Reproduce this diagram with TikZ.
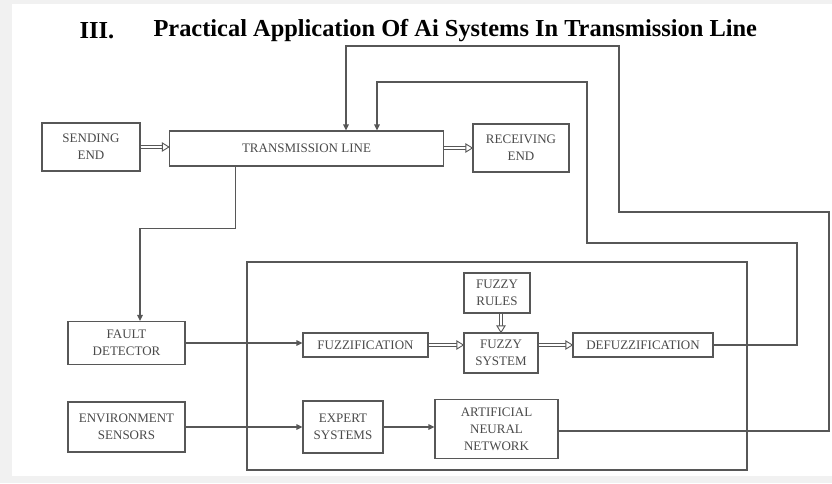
\documentclass[tikz,border=0pt]{standalone}
\usepackage{fontspec}
\setmainfont{Liberation Serif}
\usetikzlibrary{arrows.meta,calc}

\definecolor{linec}{HTML}{575757}
\definecolor{textc}{HTML}{4A4A4A}
\definecolor{pagebg}{HTML}{F1F1F1}

\tikzset{
  box/.style={draw=linec, line width=1.2pt, fill=white, inner sep=0pt,
    align=center, text=textc, font=\fontsize{13}{17}\selectfont},
  conn/.style={draw=linec, line width=1.2pt},
  arr/.style={conn, -{Triangle[length=6pt,width=5.5pt]}},
  dbl/.style={draw=linec, line width=0.9pt, double=white, double distance=2.6pt,
    shorten >=6pt},
  ohead/.pic={\draw[draw=linec, line width=0.9pt, fill=white]
    (0,0) -- (-6.5,4) -- (-6.5,-4) -- cycle;},
}

\begin{document}
\begin{tikzpicture}[x=1pt, y=-1pt]
  % page and margins
  \fill[pagebg] (0,0) rectangle (832,483);
  \fill[white] (12,4) rectangle (832,476);
  \useasboundingbox (0,0) rectangle (832,483);

  % heading
  \node[font=\bfseries\fontsize{24.4}{26}\selectfont, anchor=west] (num) at (76,31) {III.};
  \node[font=\bfseries\fontsize{24.4}{26}\selectfont, anchor=west] (title) at (150,31)
    {Practical Application Of Ai Systems In Transmission Line};

  % frame around the intelligent subsystem
  \node[draw=linec, line width=1.2pt, minimum width=500pt, minimum height=208pt,
    inner sep=0pt] (frame) at (497,366) {};

  % blocks
  \node[box, minimum width=98pt,  minimum height=48pt] (send)   at (91,147)    {SENDING\\END};
  \node[box, minimum width=274pt, minimum height=35pt] (tl)     at (306.5,148.5) {TRANSMISSION LINE};
  \node[box, minimum width=96pt,  minimum height=48pt] (recv)   at (521,148)   {RECEIVING\\END};
  \node[box, minimum width=117pt, minimum height=43pt] (fault)  at (126.5,343) {FAULT\\DETECTOR};
  \node[box, minimum width=117pt, minimum height=50pt] (env)    at (126.5,427) {ENVIRONMENT\\SENSORS};
  \node[box, minimum width=125pt, minimum height=24pt] (fuzzif) at (365.5,345) {FUZZIFICATION};
  \node[box, minimum width=80pt,  minimum height=52pt] (expert) at (343,427)   {EXPERT\\SYSTEMS};
  \node[box, minimum width=123pt, minimum height=59pt] (ann)    at (496.5,429) {ARTIFICIAL\\NEURAL\\NETWORK};
  \node[box, minimum width=66pt,  minimum height=40pt] (rules)  at (497,293)   {FUZZY\\RULES};
  \node[box, minimum width=74pt,  minimum height=40pt] (fsys)   at (501,353)   {FUZZY\\SYSTEM};
  \node[box, minimum width=140pt, minimum height=24pt] (defuz)  at (643,345)   {DEFUZZIFICATION};

  % bends of the feedback loops
  \coordinate (ib1) at (797,243);
  \coordinate (ib2) at (587,82);
  \coordinate (ob1) at (829,212);
  \coordinate (ob2) at (619,46);

  % power flow (double arrows)
  \draw[dbl] (send.east) -- (send.east -| tl.west);
  \pic at (send.east -| tl.west) {ohead};
  \draw[dbl] (tl.east |- recv.west) -- (recv.west);
  \pic at (recv.west) {ohead};
  \draw[dbl] (fuzzif.east) -- (fuzzif.east -| fsys.west);
  \pic at (fuzzif.east -| fsys.west) {ohead};
  \draw[dbl] (fuzzif.east -| fsys.east) -- (fuzzif.east -| defuz.west);
  \pic at (fuzzif.east -| defuz.west) {ohead};
  \draw[dbl] ([xshift=4pt]rules.south) -- ([xshift=4pt]rules.south |- fsys.north);
  \pic[rotate=-90] at ([xshift=4pt]rules.south |- fsys.north) {ohead};

  % signal paths
  \draw[arr] ([xshift=-71pt]tl.south) -- ++(0,62) -| ([xshift=13.5pt]fault.north);
  \draw[arr] (fault.east) -- (fault.east -| fuzzif.west);
  \draw[arr] (env.east) -- (env.east -| expert.west);
  \draw[arr] (expert.east) -- (expert.east -| ann.west);

  % feedback to the line
  \draw[arr] (defuz.east) -| (ib1) -| (ib2) -| ([xshift=70.5pt]tl.north);
  \draw[arr] ([yshift=-2pt]ann.east) -| (ob1) -| (ob2) -| ([xshift=39.5pt]tl.north);
\end{tikzpicture}
\end{document}
